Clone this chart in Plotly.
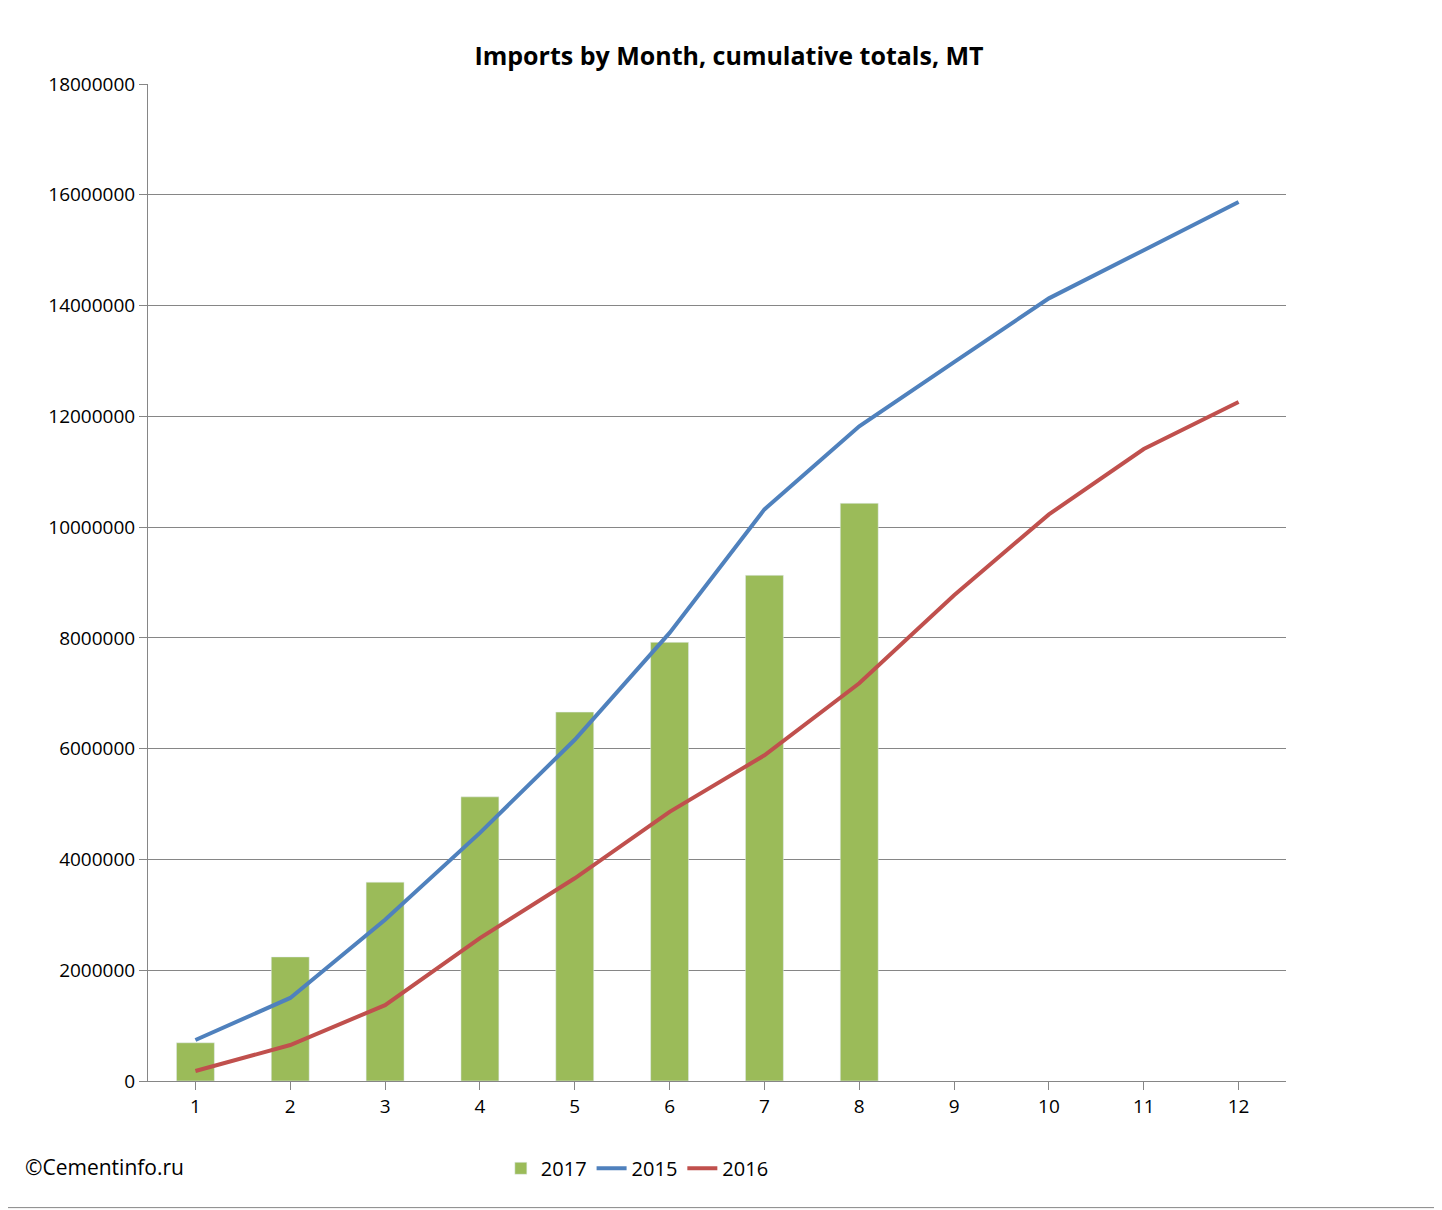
import plotly.graph_objects as go

months = list(range(1, 13))
imports_2017 = [690000, 2240000, 3590000, 5130000, 6660000, 7920000, 9130000, 10430000]
imports_2015 = [740000, 1500000, 2910000, 4480000, 6160000, 8090000, 10320000, 11820000,
                12980000, 14130000, 15000000, 15870000]
imports_2016 = [180000, 650000, 1370000, 2580000, 3660000, 4860000, 5880000, 7180000,
                8770000, 10230000, 11410000, 12260000]

fig = go.Figure()

fig.add_trace(go.Bar(x=months[:8], y=imports_2017, name='2017',
                     marker=dict(color='#9bbb59'), width=0.4))
fig.add_trace(go.Scatter(x=months, y=imports_2015, name='2015', mode='lines',
                         line=dict(color='#4f81bd', width=4)))
fig.add_trace(go.Scatter(x=months, y=imports_2016, name='2016', mode='lines',
                         line=dict(color='#c0504d', width=4)))

fig.update_layout(
    title=dict(text='<b>Imports by Month, cumulative totals, MT</b>', x=0.5, y=0.967,
               xanchor='center', font=dict(size=25, color='black')),
    font=dict(family='Open Sans, Liberation Sans, sans-serif', size=19, color='black'),
    width=1442, height=1210,
    margin=dict(l=140, r=164, t=76, b=137),
    plot_bgcolor='white', paper_bgcolor='white',
    showlegend=True,
    legend=dict(orientation='h', x=0.43, xanchor='center', y=-0.068, yanchor='top',
                font=dict(size=20)),
    xaxis=dict(range=[0.5, 12.5], tickmode='linear', tick0=1, dtick=1,
               ticks='outside', tickson='boundaries', ticklen=8, tickcolor='#868686',
               showline=True, linecolor='#868686', showgrid=False),
    yaxis=dict(range=[0, 18000000], dtick=2000000, tickformat='d',
               ticks='outside', ticklen=8, tickcolor='#868686',
               showline=True, linecolor='#868686',
               gridcolor='#868686', gridwidth=1, zeroline=False),
    shapes=[dict(type='rect', xref='paper', yref='paper', x0=-0.1265, x1=1.135,
                 y0=-0.127, y1=1.082, line=dict(color='#868686', width=1))],
    annotations=[dict(text='©Cementinfo.ru', xref='paper', yref='paper',
                      x=-0.11, y=-0.086, xanchor='left', yanchor='middle',
                      showarrow=False, font=dict(size=21))],
)

fig.write_html("out.html")
